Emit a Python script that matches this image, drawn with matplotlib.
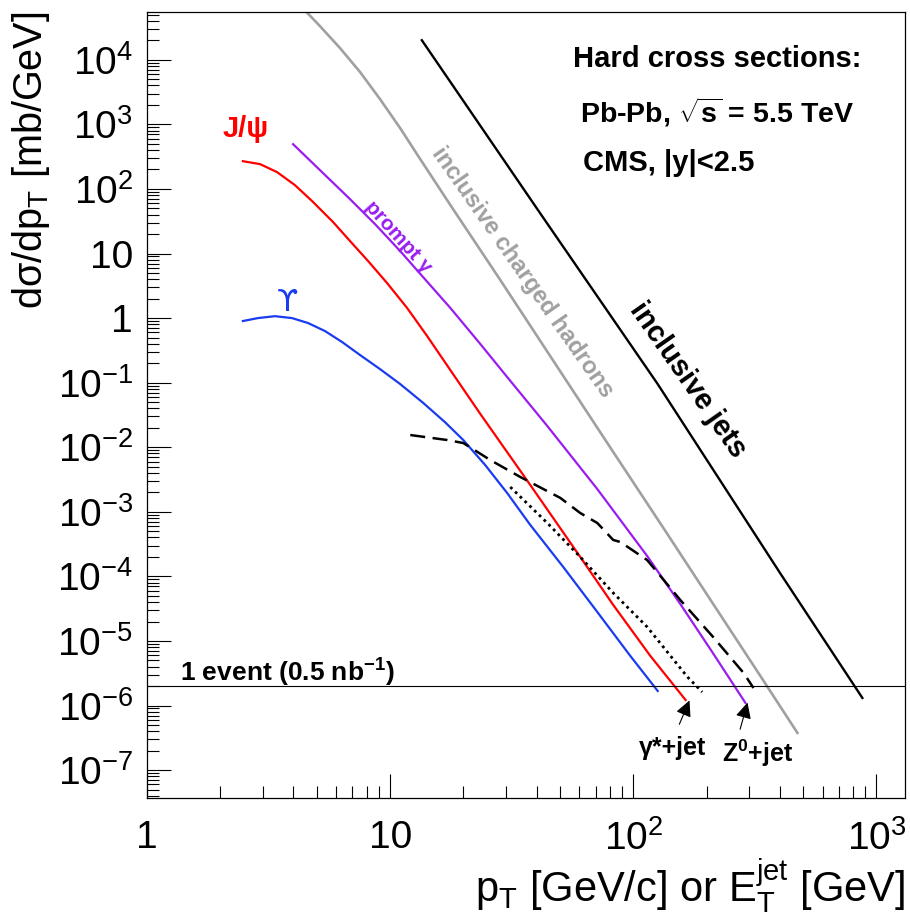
import numpy as np
import matplotlib
matplotlib.use('Agg')
import matplotlib.pyplot as plt
from matplotlib.ticker import LogLocator, NullFormatter, FuncFormatter, FixedLocator

plt.rcParams['font.family'] = ['Liberation Sans', 'DejaVu Sans']
plt.rcParams['mathtext.fontset'] = 'custom'
plt.rcParams['mathtext.rm'] = 'Liberation Sans'
plt.rcParams['mathtext.it'] = 'Liberation Sans:italic'
plt.rcParams['mathtext.bf'] = 'Liberation Sans:bold'

# J/psi
jpsi_pt = [2.48, 2.92, 3.43, 4.06, 4.78, 5.83, 6.84, 8.12, 9.72, 11.75, 14.2, 18.5,
           23.5, 37.7, 60.5, 82.7, 117.5, 164]
jpsi_xs = [269, 242, 182, 114.5, 64.7, 30.6, 15.6, 7.63, 3.48, 1.43, 0.526, 0.122,
           0.0327, 2.60e-3, 2.00e-4, 3.61e-5, 5.86e-6, 1.22e-6]

# Upsilon
ups_pt = [2.48, 2.86, 3.36, 3.95, 4.60, 5.40, 6.35, 7.53, 9.09, 11.0, 13.7, 16.8,
          20.0, 24.6, 30.3, 37.7, 51.5, 71.1, 97.2, 126]
ups_xs = [0.90, 1.0, 1.07, 1.0, 0.837, 0.629, 0.425, 0.267, 0.162, 0.0951, 0.0483,
          0.0245, 0.0129, 5.30e-3, 1.95e-3, 6.25e-4, 1.40e-4, 2.81e-5, 5.86e-6, 1.68e-6]

# prompt photons
gam_pt = [3.99, 5.15, 6.84, 8.67, 11.0, 13.9, 17.7, 23.5, 30.3, 44.3, 71.1, 114,
          156, 211, 289]
gam_xs = [493, 195, 69.5, 28.5, 10.9, 4.01, 1.43, 0.396, 0.122, 0.0213, 2.25e-3,
          2.07e-4, 3.74e-5, 6.76e-6, 1.10e-6]

# inclusive charged hadrons
had_pt = [4.26, 5.15, 6.23, 7.53, 9.09, 11.0, 13.3, 17.7, 28.4, 52.5, 82.7, 133,
          213, 333, 473]
had_xs = [70000, 33100, 15100, 6430, 2455, 873, 289, 56.1, 3.87, 0.114, 8.43e-3,
          5.61e-4, 3.74e-5, 2.87e-6, 3.77e-7]

# inclusive jets
jet_et = [13.5, 41.4, 126, 403, 875]
jet_xs = [20100, 42, 0.095, 1.1e-4, 1.31e-6]

# Z0 + jet (dashed)
zjet_pt = [12.1, 17.2, 20.0, 25.8, 34.3, 50.1, 60.5, 71.1, 82.7, 88.4, 114, 156, 213, 284, 312]
zjet_xs = [0.01545, 0.01292, 0.01161, 6.34e-3, 3.46e-3, 1.64e-3, 9.58e-4, 6.71e-4,
           3.66e-4, 3.41e-4, 1.79e-4, 4.31e-5, 1.15e-5, 3.20e-6, 1.87e-6]

# gamma* + jet (dotted)
gsjet_pt = [31.2, 44.3, 60.5, 82.7, 114, 167, 192]
gsjet_xs = [2.42e-3, 6.71e-4, 2.00e-4, 5.54e-5, 1.65e-5, 2.77e-6, 1.62e-6]

one_event = 2e-6

x_ticks = [1, 10, 100, 1000]
y_ticks = [1e-7, 1e-6, 1e-5, 1e-4, 1e-3, 1e-2, 1e-1, 1, 10, 1e2, 1e3, 1e4]

# arrows: (tail, head) in data coordinates
gsjet_arrow = [(153, 4.67e-7), (172, 1.31e-6)]
zjet_arrow = [(273, 3.9e-7), (297, 1.22e-6)]


def log_label(v, pos):
    n = int(round(np.log10(v)))
    if n == 0:
        return '1'
    if n == 1:
        return '10'
    return r'$\mathregular{10^{%d}}$' % n


fig = plt.figure(figsize=(9.1, 9.15), dpi=100)
ax = fig.add_axes([0.1615, 0.1279, 0.833, 0.859])
ax.set_xscale('log')
ax.set_yscale('log')
ax.set_xlim(1, 1310)
ax.set_ylim(3.7e-8, 5.5e4)

ax.plot(had_pt, had_xs, color='#a0a0a0', lw=1.9)
ax.plot(jet_et, jet_xs, color='black', lw=1.7)
ax.plot(gam_pt, gam_xs, color='#9a1df0', lw=1.6)
ax.plot(jpsi_pt, jpsi_xs, color='#ff0000', lw=1.6)
ax.plot(ups_pt, ups_xs, color='#1a3cf0', lw=1.6)
ax.plot(zjet_pt, zjet_xs, color='black', lw=1.8, linestyle=(0, (6, 3)))
ax.plot(gsjet_pt, gsjet_xs, color='black', lw=2.0, linestyle=(0, (1, 1.4)))
ax.axhline(one_event, color='black', lw=0.8)

for tail, head in [gsjet_arrow, zjet_arrow]:
    ax.annotate('', xy=head, xytext=tail,
                arrowprops=dict(arrowstyle='-|>', color='black', lw=0.8, mutation_scale=24))

# labels on the curves
ax.text(0.1306, 0.851, 'J/ψ', color='#ff0000', fontsize=21, fontweight='bold',
        ha='center', va='center', transform=ax.transAxes)
ax.text(0.185, 0.630, 'ϒ', color='#1a3cf0', fontsize=22, family=['DejaVu Sans'],
        ha='center', va='center', transform=ax.transAxes)
ax.text(0.331, 0.714, 'prompt γ', color='#9a1df0', fontsize=15, fontweight='bold',
        rotation=-48, rotation_mode='anchor', ha='center', va='center', transform=ax.transAxes)
ax.text(0.495, 0.669, 'inclusive charged hadrons', color='#a0a0a0', fontsize=17,
        fontweight='bold', rotation=-55, rotation_mode='anchor',
        ha='center', va='center', transform=ax.transAxes)
ax.text(0.714, 0.532, 'inclusive jets', color='black', fontsize=21, fontweight='bold',
        rotation=-55, rotation_mode='anchor', ha='center', va='center', transform=ax.transAxes)

ax.text(0.562, 0.940, 'Hard cross sections:', fontsize=21, fontweight='bold',
        ha='left', va='center', transform=ax.transAxes)
ax.text(0.571, 0.873, r'Pb-Pb, $\mathbf{\sqrt{s}}$ = 5.5 TeV', fontsize=20.5, fontweight='bold',
        ha='left', va='center', transform=ax.transAxes)
ax.text(0.575, 0.808, 'CMS, |y|<2.5', fontsize=21, fontweight='bold',
        ha='left', va='center', transform=ax.transAxes)

ax.text(0.0435, 0.159, r'1 event (0.5 nb$^{\mathbf{-1}}$)', fontsize=19, fontweight='bold',
        ha='left', va='center', transform=ax.transAxes)
ax.text(0.693, 0.0636, 'γ*+jet', fontsize=18, fontweight='bold',
        ha='center', va='center', transform=ax.transAxes)
ax.text(0.806, 0.0573, r'Z$^{\mathbf{0}}$+jet', fontsize=18, fontweight='bold',
        ha='center', va='center', transform=ax.transAxes)

# axes style (ROOT-like)
ax.xaxis.set_major_locator(FixedLocator(x_ticks))
ax.yaxis.set_major_locator(FixedLocator(y_ticks))
for axis in [ax.xaxis, ax.yaxis]:
    axis.set_minor_locator(LogLocator(base=10, subs=np.arange(2, 10), numticks=300))
    axis.set_minor_formatter(NullFormatter())
    axis.set_major_formatter(FuncFormatter(log_label))

ax.tick_params(which='both', direction='in', top=False, right=False, labelsize=28)
ax.tick_params(which='major', length=17, width=0.8)
ax.tick_params(which='minor', length=8.5, width=0.8)
ax.tick_params(axis='y', pad=10)
ax.tick_params(axis='x', pad=16)
for s in ax.spines.values():
    s.set_linewidth(0.9)

ax.set_ylabel(r'd$\mathregular{\sigma}$/d$\mathregular{p_{T}}$ [mb/GeV]', fontsize=28.5, loc='top')
ax.set_xlabel(r'$\mathregular{p_{T}}$ [GeV/c] or $\mathregular{E_{T}^{jet}}$ [GeV]', fontsize=30,
              loc='right', labelpad=0)

fig.savefig('out.png', dpi=100)
